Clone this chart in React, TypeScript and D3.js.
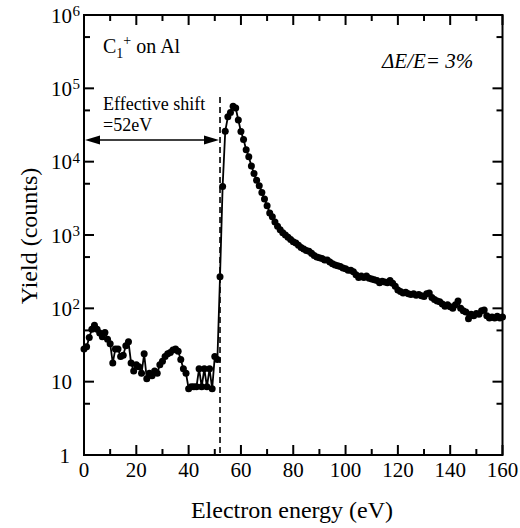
import React from "react";
import * as d3 from "d3";

const energy = [
  0,1,2,3,4,5,6,7,8,9,10,11,12,13,14,15,16,17,18,19,20,21,22,23,24,25,26,27,28,29,
  30,31,32,33,34,35,36,37,38,39,40,41,42,43,44,45,46,47,48,49,50,51,52,53,54,55,56,57,58,59,
  60,61,62,63,64,65,66,67,68,69,70,71,72,73,74,75,76,77,78,79,80,81,82,83,84,85,86,87,88,89,
  90,91,92,93,94,95,96,97,98,99,100,101,102,103,104,105,106,107,108,109,110,111,112,113,114,115,116,117,118,119,
  120,121,122,123,124,125,126,127,128,129,130,131,132,133,134,135,136,137,138,139,140,141,142,143,144,145,146,147,148,149,
  150,151,152,153,154,155,156,157,158,159,160,
];

const counts = [
  28,30,40,52,59,52,46,41,47,38,
  33,18,28,28,22,23,31,35,18,14,
  17,16,13,24,11,13,12,14,13,17,
  19,22,24,25,27,28,26,20,15,13,
  8,8.5,8.5,8.5,15,8.5,15,8.5,15,8,
  22,20,270,4600,26000,41000,47000,57000,54000,37000,
  25700,20000,14500,11700,8700,6900,5600,4700,3800,3100,
  2500,2000,1780,1510,1320,1175,1070,1000,930,870,
  810,775,725,676,645,617,600,562,525,500,
  490,478,457,457,427,407,390,380,372,355,
  347,331,331,316,288,263,275,263,275,257,
  251,245,240,224,234,229,224,240,219,200,
  178,170,162,166,158,155,158,151,155,148,
  145,158,162,141,132,126,123,115,107,112,
  105,100,112,126,100,93,89,72,83,79,
  85,83,93,95,79,74,76,74,78,74,
  76,
];

const xMajorTicks = [0, 20, 40, 60, 80, 100, 120, 140, 160];
const xMinorTicks = [10, 30, 50, 70, 90, 110, 130, 150];
const yMajorTicks = [1, 10, 100, 1000, 10000, 100000, 1000000];
const yExponents = ["", "", "2", "3", "4", "5", "6"];
const yMinorTicks = [5, 50, 500, 5000, 50000, 500000];
const effectiveShift = 52;

const FONT = '"Times New Roman", Times, Tinos, "Liberation Serif", "Nimbus Roman", "Nimbus Roman No9 L", "Noto Serif", "DejaVu Serif", FreeSerif, serif';

export default function App() {
  const left = 84, right = 502.5, top = 15, bottom = 455;
  const x = d3.scaleLinear().domain([0, 160]).range([left, right]);
  const y = d3.scaleLog().domain([1, 1e6]).range([bottom, top]);
  const pts = energy.map((e, i) => [e, counts[i]] as [number, number]);
  const line = d3.line<[number, number]>().x(d => x(d[0])).y(d => y(d[1]));
  const majLen = 10, minLen = 6;
  const xs = x(effectiveShift);
  const arrowY = 140;
  const ts = { fontFamily: FONT };

  return (
    <svg width={520} height={528} style={{ position: "absolute", left: 0, top: 0, background: "#fff", fontFamily: FONT }}>
      <rect x={0} y={0} width={520} height={528} fill="#fff" />
      {/* data */}
      <path d={line(pts) || ""} fill="none" stroke="#000" strokeWidth={1.8} />
      {pts.map((d, i) => (
        <circle key={i} cx={x(d[0])} cy={y(d[1])} r={3.5} fill="#000" />
      ))}
      {/* dashed line */}
      <line x1={xs} x2={xs} y1={97} y2={bottom} stroke="#000" strokeWidth={1.6} strokeDasharray="6,4" />
      {/* arrow */}
      <line x1={left + 12} x2={xs - 12} y1={arrowY} y2={arrowY} stroke="#000" strokeWidth={1.5} />
      <path d={`M${left + 1},${arrowY} L${left + 16},${arrowY - 4.5} L${left + 16},${arrowY + 4.5} Z`} fill="#000" />
      <path d={`M${xs - 1},${arrowY} L${xs - 16},${arrowY - 4.5} L${xs - 16},${arrowY + 4.5} Z`} fill="#000" />
      {/* frame */}
      <rect x={left} y={top} width={right - left} height={bottom - top} fill="none" stroke="#000" strokeWidth={2} />
      {/* x ticks */}
      {xMajorTicks.map(t => (
        <g key={"xm" + t}>
          <line x1={x(t)} x2={x(t)} y1={bottom} y2={bottom - majLen} stroke="#000" strokeWidth={2} />
          <line x1={x(t)} x2={x(t)} y1={top} y2={top + majLen} stroke="#000" strokeWidth={2} />
          <text style={ts} x={x(t)} y={477} fontSize={21} textAnchor="middle">{t}</text>
        </g>
      ))}
      {xMinorTicks.map(t => (
        <g key={"xn" + t}>
          <line x1={x(t)} x2={x(t)} y1={bottom} y2={bottom - minLen} stroke="#000" strokeWidth={2} />
          <line x1={x(t)} x2={x(t)} y1={top} y2={top + minLen} stroke="#000" strokeWidth={2} />
        </g>
      ))}
      {/* y ticks */}
      {yMajorTicks.map((t, i) => (
        <g key={"ym" + t}>
          <line x1={left} x2={left + majLen} y1={y(t)} y2={y(t)} stroke="#000" strokeWidth={2} />
          <line x1={right} x2={right - majLen} y1={y(t)} y2={y(t)} stroke="#000" strokeWidth={2} />
          {i === 0 ? (
            <text style={ts} x={70} y={y(t) + 7.5} fontSize={21} textAnchor="end">1</text>
          ) : (
            <>
              <text style={ts} x={72} y={y(t) + 7.5} fontSize={21} textAnchor="end">10</text>
              {yExponents[i] && (
                <text style={ts} x={72.5} y={y(t) + 1} fontSize={15} textAnchor="start">{yExponents[i]}</text>
              )}
            </>
          )}
        </g>
      ))}
      {yMinorTicks.map(t => (
        <g key={"yn" + t}>
          <line x1={left} x2={left + minLen} y1={y(t)} y2={y(t)} stroke="#000" strokeWidth={2} />
          <line x1={right} x2={right - minLen} y1={y(t)} y2={y(t)} stroke="#000" strokeWidth={2} />
        </g>
      ))}
      {/* annotations */}
      <text style={ts} x={103} y={53} fontSize={20}>
        C<tspan fontSize={14} dy={5}>1</tspan><tspan fontSize={14} dy={-13}>+</tspan><tspan dy={8}> on Al</tspan>
      </text>
      <text style={ts} x={103} y={110} fontSize={18}>Effective shift</text>
      <text style={ts} x={103} y={131} fontSize={18}>=52eV</text>
      <text style={ts} x={382} y={68} fontSize={21} fontStyle="italic">ΔE/E= 3%</text>
      {/* axis titles */}
      <text style={ts} x={292} y={518} fontSize={24} textAnchor="middle">Electron energy (eV)</text>
      <text style={ts} transform="translate(37,236) rotate(-90)" fontSize={24} textAnchor="middle">Yield (counts)</text>
    </svg>
  );
}
